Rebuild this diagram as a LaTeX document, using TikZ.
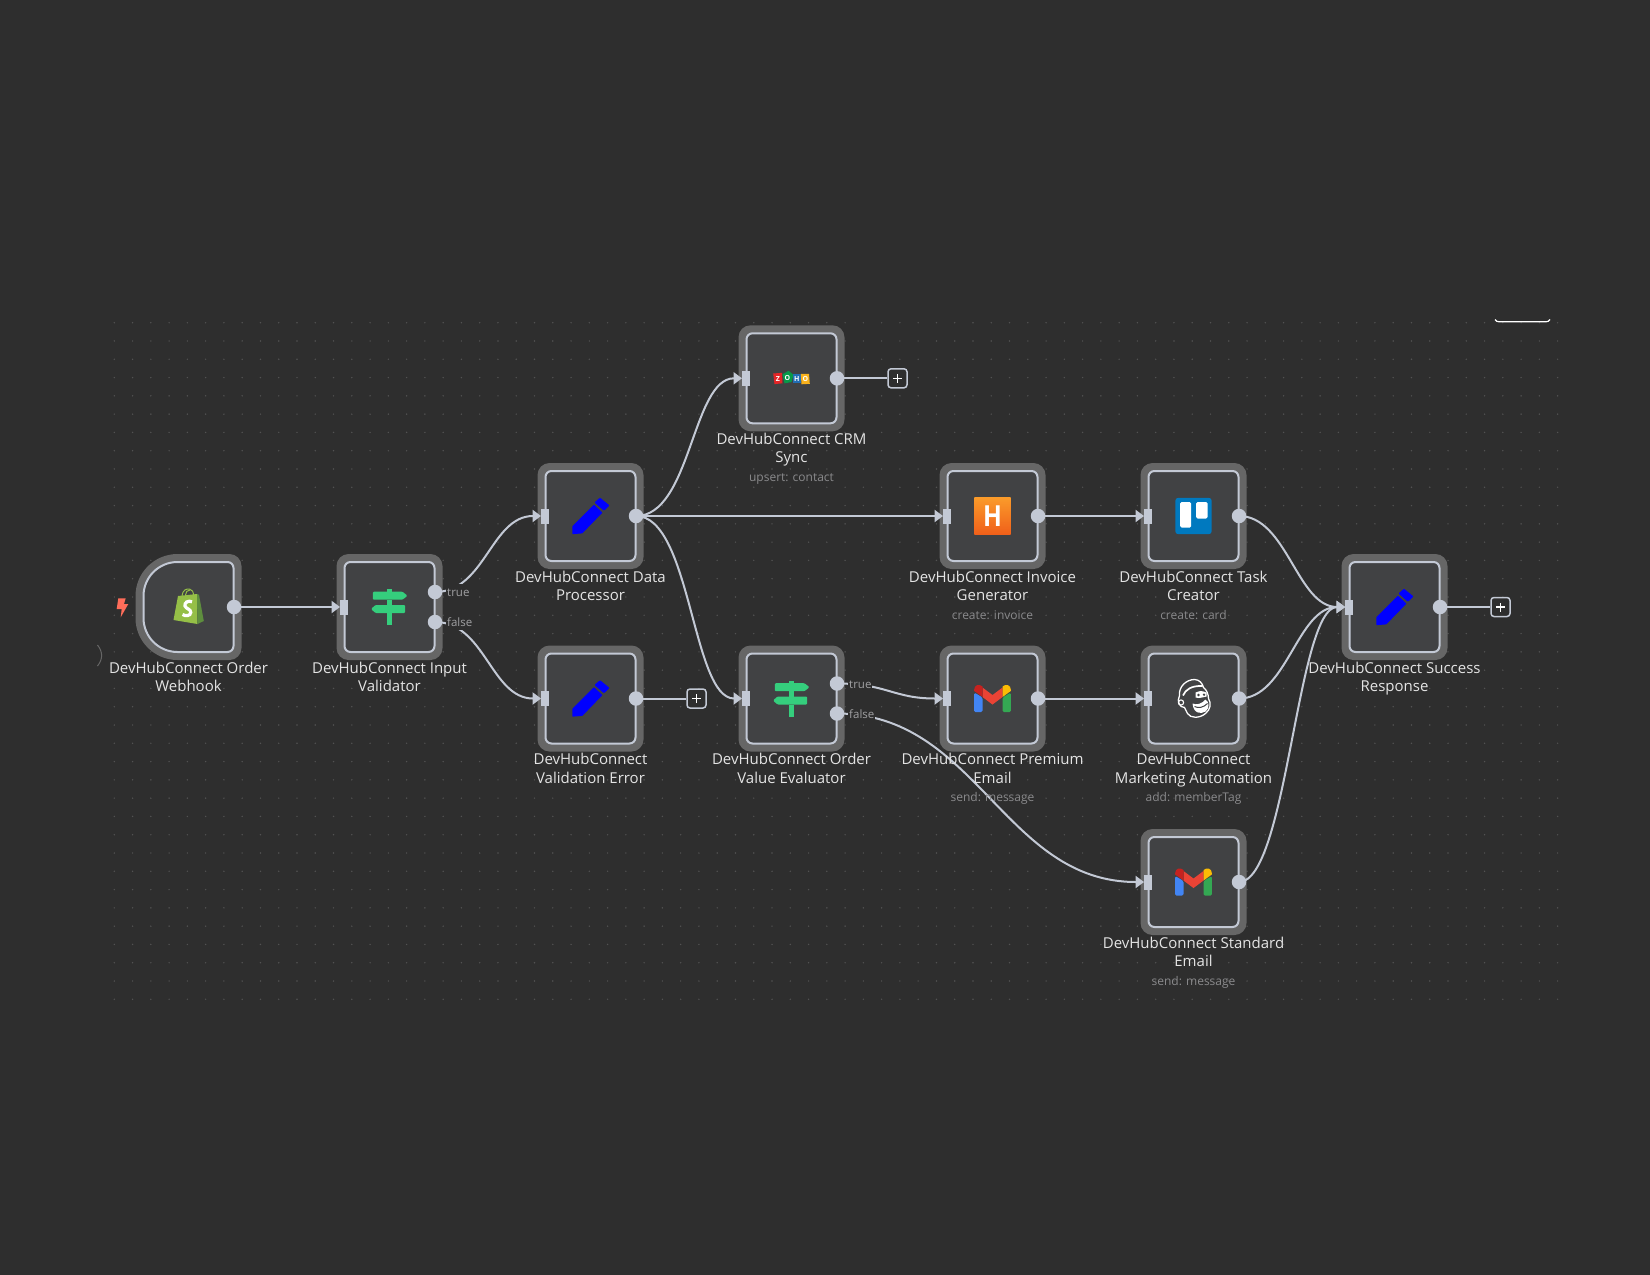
\documentclass[tikz,border=0pt]{standalone}
\usepackage{fontspec}
\setmainfont{Open Sans}
\usetikzlibrary{arrows.meta,calc,positioning}
\definecolor{bgc}{HTML}{2E2E2E}
\definecolor{gridc}{HTML}{525252}
\definecolor{haloc}{HTML}{666666}
\definecolor{bodyc}{HTML}{414244}
\definecolor{linec}{HTML}{C3C9D5}
\definecolor{titlec}{HTML}{E4E4E4}
\definecolor{subc}{HTML}{8A8A8C}
\definecolor{pencilc}{HTML}{0000FF}
\definecolor{signc}{HTML}{35CE7D}
\pgfdeclarelayer{halolayer}
\pgfdeclarelayer{edgelayer}
\pgfsetlayers{halolayer,edgelayer,main}
\tikzset{
  halobox/.style={rectangle,minimum size=106pt,inner sep=0pt,fill=haloc,rounded corners=12pt},
  bodybox/.style={rectangle,minimum size=90pt,inner sep=0pt,fill=bodyc,draw=linec,line width=2pt,rounded corners=6pt},
  inport/.style={rectangle,minimum width=7.5pt,minimum height=15pt,inner sep=0pt,fill=linec},
  outdot/.style={circle,minimum size=14.5pt,inner sep=0pt,fill=linec},
  plusbox/.style={rectangle,minimum size=19pt,inner sep=0pt,draw=linec,line width=1.5pt,rounded corners=3pt,fill=bgc},
  title/.style={align=center,text=titlec,font=\fontsize{15}{18.4}\selectfont,inner sep=0pt},
  subtitle/.style={text=subc,font=\fontsize{12}{14}\selectfont,inner sep=0pt,anchor=base},
  branch/.style={text=subc!80!white,font=\fontsize{11.5}{13}\selectfont,inner sep=1pt,fill=bgc,anchor=west,text height=12pt,text depth=2.5pt},
  wire/.style={draw=linec,line width=2pt},
  arrowwire/.style={wire,-{Triangle[length=8.5pt,width=12pt]}},
  pics/pencil/.style={code={
    \fill[pencilc,draw=pencilc,line width=1.2pt,line join=round] (-17.5,10.5) -- (3.5,-10.5) -- (11,-3.3) -- (-8.5,16.8) -- (-17.5,17.5) -- cycle;
    \fill[pencilc,draw=pencilc,line width=2pt,line join=round] (5.5,-13.5) -- (9.5,-17) -- (17.5,-10.5) -- (13.5,-6.5) -- cycle;
  }},
  pics/signpost/.style={code={
    \fill[signc,rounded corners=1pt] (-16.7,-15.3) -- (13,-15.3) -- (18,-11.3) -- (13,-7.3) -- (-16.7,-7.3) -- cycle;
    \fill[signc,rounded corners=1pt] (15.7,-2) -- (-14,-2) -- (-18.5,2) -- (-14,6) -- (15.7,6) -- cycle;
    \fill[signc] (-2.2,-18) rectangle (2.2,-15);
    \fill[signc] (-2.2,-7.3) rectangle (2.2,-2);
    \fill[signc] (-2.2,6) rectangle (2.2,18);
  }},
}
\newcommand{\wfbox}[3]{%
  \begin{pgfonlayer}{halolayer}
    \node[halobox] (#1h) at (#2,#3) {};
    \node[bodybox] (#1) at (#2,#3) {};
  \end{pgfonlayer}
}
\newcommand{\wfin}[1]{\node[inport] (#1i) at ([xshift=-45.5pt]#1.center) {};}
\newcommand{\wfout}[1]{\node[outdot] (#1o) at ([xshift=45.5pt]#1.center) {};}
\newcommand{\wftitle}[2]{\node[title] (#1t) at ([yshift=-70.8pt]#1.center) {\rule{0pt}{13pt}#2\rule[-4pt]{0pt}{4pt}};}
\newcommand{\wfsub}[2]{\node[subtitle] (#1s) at ([yshift=-103pt]#1.center) {#2};}
\newcommand{\plusmark}[1]{\draw[white,line width=1.5pt] ([xshift=-4.5pt]#1.center) -- ([xshift=4.5pt]#1.center) ([yshift=-4.5pt]#1.center) -- ([yshift=4.5pt]#1.center);}
\begin{document}
\begin{tikzpicture}[x=1pt,y=-1pt]
\useasboundingbox (0,0) rectangle (1650,1275);
\begin{pgfonlayer}{halolayer}
  \fill[bgc] (0,0) rectangle (1650,1275);
  \foreach \i in {0,...,79}{
    \foreach \j in {0,...,37}{
      \fill[gridc] ({114.3+18.27*\i},{322.7+18.286*\j}) circle[radius=0.8];
    }
  }
\end{pgfonlayer}

% webhook: custom outline, large left corners
\begin{pgfonlayer}{halolayer}
  \fill[haloc] (188.5,554) [rounded corners=12pt] -- (241.5,554) -- (241.5,660) [rounded corners=42pt] -- (135.5,660) -- (135.5,554) [sharp corners] -- cycle;
  \node[rectangle,minimum size=90pt,inner sep=0pt] (hook) at (188.5,607) {};
  \filldraw[fill=bodyc,draw=linec,line width=2pt] (188.5,562) [rounded corners=6pt] -- (233.5,562) -- (233.5,652) [rounded corners=34pt] -- (143.5,652) -- (143.5,562) [sharp corners] -- cycle;
\end{pgfonlayer}

\wfbox{valA}{389.5}{607}
\wfbox{proc}{590.5}{516}
\wfbox{verr}{590.5}{698.5}
\wfbox{crm}{791.5}{378.3}
\wfbox{valB}{791.5}{698.5}
\wfbox{inv}{992.5}{516}
\wfbox{prem}{992.5}{698.5}
\wfbox{task}{1193.5}{516}
\wfbox{mkt}{1193.5}{698.5}
\wfbox{std}{1193.5}{882}
\wfbox{succ}{1394.5}{607}

\wfout{hook}
\foreach \n in {valA,proc,verr,crm,valB,inv,prem,task,mkt,std,succ}{\wfin{\n}}
\foreach \n in {proc,verr,crm,inv,prem,task,mkt,std,succ}{\wfout{\n}}

% branch outputs
\node[outdot] (valAyes) at ([xshift=45.5pt,yshift=15pt]valA.center) {};
\node[outdot] (valAno) at ([xshift=45.5pt,yshift=-15pt]valA.center) {};
\node[outdot] (valByes) at ([xshift=45.5pt,yshift=15pt]valB.center) {};
\node[outdot] (valBno) at ([xshift=45.5pt,yshift=-15pt]valB.center) {};
\node[branch] (valAyesl) at ([xshift=11pt]valAyes.center) {true};
\node[branch] (valAnol) at ([xshift=11pt]valAno.center) {false};
\node[branch] (valByesl) at ([xshift=11pt]valByes.center) {true};
\node[branch] (valBnol) at ([xshift=11pt]valBno.center) {false};

% plus boxes
\node[plusbox] (crmp) at ([xshift=106pt]crm.center) {};
\node[plusbox] (verrp) at ([xshift=106pt]verr.center) {};
\node[plusbox] (succp) at ([xshift=106pt]succ.center) {};
\plusmark{crmp}\plusmark{verrp}\plusmark{succp}

% titles
\wftitle{hook}{DevHubConnect Order\\Webhook}
\wftitle{valA}{DevHubConnect Input\\Validator}
\wftitle{proc}{DevHubConnect Data\\Processor}
\wftitle{verr}{DevHubConnect\\Validation Error}
\wftitle{crm}{DevHubConnect CRM\\Sync}
\wftitle{valB}{DevHubConnect Order\\Value Evaluator}
\wftitle{inv}{DevHubConnect Invoice\\Generator}
\wftitle{prem}{DevHubConnect Premium\\Email}
\wftitle{task}{DevHubConnect Task\\Creator}
\wftitle{mkt}{DevHubConnect\\Marketing Automation}
\wftitle{std}{DevHubConnect Standard\\Email}
\wftitle{succ}{DevHubConnect Success\\Response}
\wfsub{crm}{upsert: contact}
\wfsub{inv}{create: invoice}
\wfsub{task}{create: card}
\wfsub{prem}{send: message}
\wfsub{mkt}{add: memberTag}
\wfsub{std}{send: message}

% edges
\begin{pgfonlayer}{edgelayer}
  \draw[arrowwire] (hooko.center) -- (valAi.west);
  \draw[arrowwire] (valAyes.center) .. controls +(50,0) and +(-50,0) .. (proci.west);
  \draw[arrowwire] (valAno.center) .. controls +(50,0) and +(-50,0) .. (verri.west);
  \draw[arrowwire] (proco.center) .. controls +(55,0) and +(-50,0) .. (crmi.west);
  \draw[arrowwire] (proco.center) -- (invi.west);
  \draw[arrowwire] (proco.center) .. controls +(55,0) and +(-50,0) .. (valBi.west);
  \draw[wire] (verro.center) -- (verrp.west);
  \draw[wire] (crmo.center) -- (crmp.west);
  \draw[arrowwire] (valByes.center) .. controls +(50,0) and +(-50,0) .. (premi.west);
  \draw[arrowwire] (valBno.center) .. controls +(140,0) and +(-140,0) .. (stdi.west);
  \draw[arrowwire] (invo.center) -- (taski.west);
  \draw[arrowwire] (premo.center) -- (mkti.west);
  \draw[arrowwire] (tasko.center) .. controls +(48,0) and +(-48,0) .. (succi.west);
  \draw[arrowwire] (mkto.center) .. controls +(48,0) and +(-48,0) .. (succi.west);
  \draw[arrowwire] (stdo.center) .. controls +(48,0) and +(-48,0) .. (succi.west);
  \draw[wire] (succo.center) -- (succp.west);
\end{pgfonlayer}

% icons
\pic at (valA.center) {signpost};
\pic at (valB.center) {signpost};
\pic at (proc.center) {pencil};
\pic at (verr.center) {pencil};
\pic at (succ.center) {pencil};

% shopify bag
\begin{scope}[shift={(hook.center)}]
  \draw[color={rgb,255:red,149;green,191;blue,71},line width=1pt] (-6.5,-11) .. controls (-6,-17) and (-2,-18.5) .. (1,-18) .. controls (4,-17.5) and (5,-15) .. (5,-11);
  \draw[color={rgb,255:red,149;green,191;blue,71},line width=1pt] (-3,-12) .. controls (-3,-15) and (-1,-17) .. (1.5,-17);
  \fill[color={rgb,255:red,149;green,191;blue,71}] (-15,13) -- (-10.5,-11) -- (8.5,-13) -- (9,17) -- cycle;
  \fill[color={rgb,255:red,94;green,142;blue,62}] (8.5,-13) -- (10.5,-12.2) -- (15.3,14) -- (9,17) -- cycle;
  \draw[white,line width=3.2pt] (3.5,-5.2) .. controls (0,-7) and (-4.5,-4.5) .. (-3.5,-1) .. controls (-2.5,2) and (2.5,2) .. (2.3,5.5) .. controls (2,9) and (-3,9.5) .. (-6,7.5);
\end{scope}

% zoho
\begin{scope}[shift={(crm.center)}]
  \fill[color={rgb,255:red,228;green,37;blue,39}] (-18.3,-4.8) -- (-9.5,-5.5) -- (-9,5) -- (-17,5.8) -- cycle;
  \fill[color={rgb,255:red,8;green,153;blue,73}] (-9,-4) -- (-3,-7.5) -- (2,-3.5) -- (0,3.8) -- (-7,5) -- cycle;
  \fill[color={rgb,255:red,34;green,109;blue,180}] (1,-4.5) -- (9.3,-4.5) -- (9.3,5) -- (1,5) -- cycle;
  \fill[color={rgb,255:red,249;green,178;blue,29}] (9.3,-4.5) -- (17.5,-4.5) -- (18.3,5.5) -- (10,6) -- cycle;
  \node[inner sep=0pt,text=white,font=\bfseries\fontsize{7}{8}\selectfont] (zz) at (-13.5,0.3) {Z};
  \node[inner sep=0pt,text=white,font=\bfseries\fontsize{7}{8}\selectfont] (zo) at (-4,-0.8) {O};
  \node[inner sep=0pt,text=white,font=\bfseries\fontsize{7}{8}\selectfont] (zh) at (5.2,0.3) {H};
  \node[inner sep=0pt,text=white,font=\bfseries\fontsize{7}{8}\selectfont] (zp) at (13.8,0.6) {O};
\end{scope}

% invoice H
\path[top color={rgb,255:red,250;green,154;blue,42},bottom color={rgb,255:red,240;green,96;blue,26}] ([shift={(-18.2,-18.2)}]inv.center) rectangle ([shift={(18.2,18.2)}]inv.center);
\node[inner sep=0pt,text=white,font=\bfseries\fontsize{29}{30}\selectfont] (invh) at (inv.center) {\scalebox{0.85}[1]{H}};

% trello
\begin{scope}[shift={(task.center)}]
  \fill[color={rgb,255:red,0;green,121;blue,191},rounded corners=3pt] (-18.2,-18.2) rectangle (18.2,18.2);
  \fill[white,rounded corners=1.5pt] (-13.3,-14) rectangle (-2.3,11.7);
  \fill[white,rounded corners=1.5pt] (2.7,-14) rectangle (14,2.7);
\end{scope}

% gmail icons
\foreach \n in {prem,std}{
\begin{scope}[shift={(\n.center)}]
  \fill[color={rgb,255:red,66;green,133;blue,244},rounded corners=1.5pt] (-18.3,-6) -- (-10,-1) -- (-10,13.7) -- (-18.3,13.7) -- cycle;
  \fill[color={rgb,255:red,52;green,168;blue,83},rounded corners=1.5pt] (18.3,-6) -- (10,-1) -- (10,13.7) -- (18.3,13.7) -- cycle;
  \fill[color={rgb,255:red,234;green,67;blue,53}] (-10,-11) -- (0,-3.5) -- (10,-11) -- (10,-1.5) -- (0,6) -- (-10,-1.5) -- cycle;
  \fill[color={rgb,255:red,197;green,34;blue,31}] (-18.3,-9) .. controls (-18.3,-13.5) and (-13.5,-15) .. (-10,-12) -- (-10,-1.5) -- (-18.3,-7.5) -- cycle;
  \fill[color={rgb,255:red,251;green,188;blue,4}] (18.3,-9) .. controls (18.3,-13.5) and (13.5,-15) .. (10,-12) -- (10,-1.5) -- (18.3,-7.5) -- cycle;
\end{scope}
}

% mailchimp
\begin{scope}[shift={(mkt.center)}]
  \draw[white,line width=1.3pt,fill=bodyc] (-14,-3) .. controls (-15,-12) and (-7,-19) .. (1,-19) .. controls (6,-19) and (9,-15) .. (10,-11) .. controls (13,-9) and (15,-4) .. (15,0) .. controls (18,5) and (17,11) .. (12,15) .. controls (6,20) and (-3,20) .. (-6,15) .. controls (-7,13) and (-8,11) .. (-9,9) .. controls (-14,9) and (-17,3) .. (-14,-3) -- cycle;
  \draw[white,line width=1.7pt] (-10.5,-3) .. controls (-8,-9) and (-2,-13) .. (9,-12.5);
  \draw[white,line width=1.1pt] (-12.5,4) circle[radius=2.6];
  \fill[white] (-1,5) .. controls (3,7) and (9,5) .. (12,1) .. controls (16,3) and (16,10) .. (12,13) .. controls (7,16) and (0,15) .. (-1,5) -- cycle;
  \draw[bodyc,line width=1pt] (1,8) .. controls (5,10) and (10,9) .. (14,5);
  \fill[white] (2,-6) .. controls (5,-8) and (8,-8) .. (13,-6) -- (13,-2) .. controls (9,-1) and (5,0) .. (2,-1) -- cycle;
  \fill[bodyc] (5,-3.5) circle[radius=1.3] (10.5,-3.8) circle[radius=1.3];
\end{scope}

% trigger bolt
\fill[color={rgb,255:red,255;green,109;blue,90}] (118.3,598.3) -- (125.7,598.3) -- (124,604) -- (128.3,604) -- (120.7,617.3) -- (121.7,609) -- (116.7,609) -- cycle;

% canvas fragments
\draw[haloc,line width=1pt] (97.5,645) .. controls (103,652) and (103,659) .. (97.5,666);
\draw[white,line width=1.2pt] (1495,319.5) .. controls (1496,321) and (1497,321.8) .. (1499,321.8) -- (1546,321.8) .. controls (1548,321.8) and (1549,321) .. (1550,319.5);
\end{tikzpicture}
\end{document}
